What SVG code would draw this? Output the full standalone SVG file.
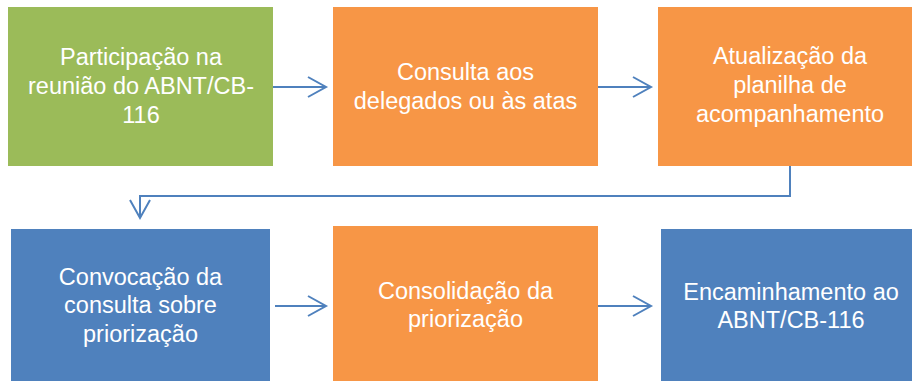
<svg xmlns="http://www.w3.org/2000/svg" width="912" height="381" viewBox="0 0 912 381">
<style>
.box text{font-family:"Liberation Sans",Arial,sans-serif;font-size:23.5px;fill:#fff;text-anchor:middle}
.g{fill:#9BBB59}.o{fill:#F79646}.b{fill:#4F81BD}
.con{fill:none;stroke:#4F81BD;stroke-width:2}
</style>
<defs>
<marker id="ah" markerUnits="userSpaceOnUse" markerWidth="24" markerHeight="24" refX="19" refY="11" orient="auto" overflow="visible">
<path d="M1,1 L19,11 L1,21" fill="none" stroke="#4F81BD" stroke-width="2"/>
</marker>
</defs>
<rect width="912" height="381" fill="#fff"/>
<g id="n1" class="box"><rect class="g" x="8" y="7" width="265" height="159"/>
<text x="141" y="65">Participação na</text><text x="141" y="94">reunião do ABNT/CB-</text><text x="141" y="123">116</text></g>
<g id="n2" class="box"><rect class="o" x="333" y="7" width="265" height="159"/>
<text x="465.5" y="80">Consulta aos</text><text x="465.5" y="109">delegados ou às atas</text></g>
<g id="n3" class="box"><rect class="o" x="658" y="7" width="264" height="159"/>
<text x="790" y="64">Atualização da</text><text x="790" y="93">planilha de</text><text x="790" y="122">acompanhamento</text></g>
<g id="n4" class="box"><rect class="b" x="11" y="229" width="259" height="160"/>
<text x="140.5" y="285">Convocação da</text><text x="140.5" y="313">consulta sobre</text><text x="140.5" y="342">priorização</text></g>
<g id="n5" class="box"><rect class="o" x="333" y="226" width="265" height="160"/>
<text x="465.5" y="299">Consolidação da</text><text x="465.5" y="327">priorização</text></g>
<g id="n6" class="box"><rect class="b" x="661" y="229" width="260" height="160"/>
<text x="791" y="300">Encaminhamento ao</text><text x="791" y="328">ABNT/CB-116</text></g>
<g id="connectors" class="con">
<path d="M273,87 H326" marker-end="url(#ah)"/>
<path d="M598,87 H651" marker-end="url(#ah)"/>
<path d="M790,166 V196 H140 V218" marker-end="url(#ah)"/>
<path d="M275,306 H326" marker-end="url(#ah)"/>
<path d="M598,306 H651" marker-end="url(#ah)"/>
</g>
</svg>
